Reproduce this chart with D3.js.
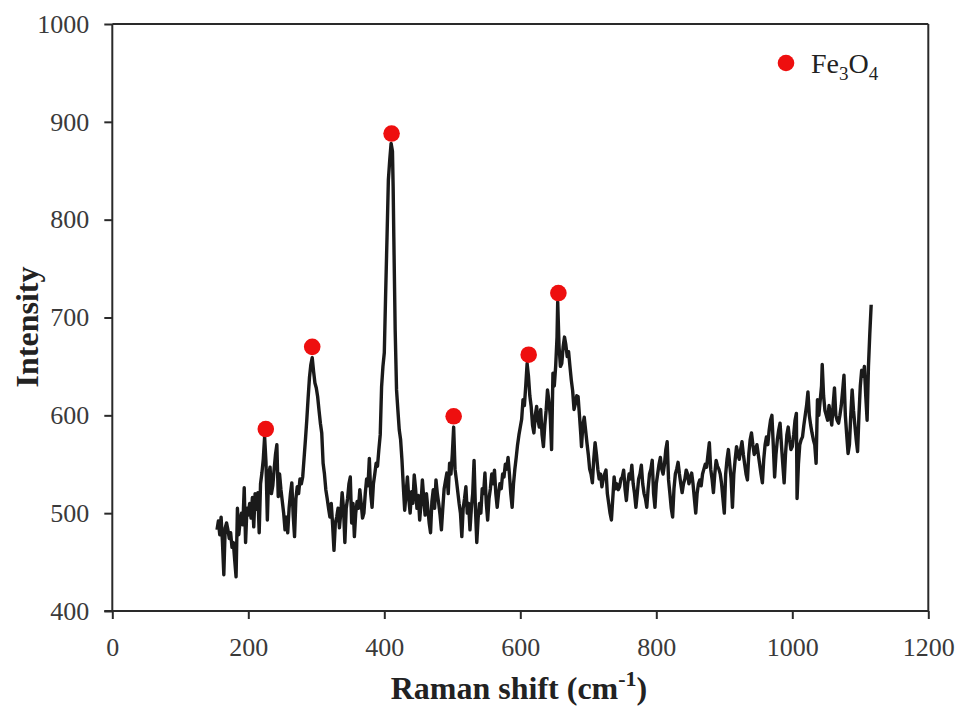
<!DOCTYPE html>
<html>
<head>
<meta charset="utf-8">
<script src="https://cdn.jsdelivr.net/npm/d3@7"></script>
<style>
  html, body { margin: 0; padding: 0; background: #fff; }
  svg { display: block; }
</style>
</head>
<body>
<svg id="chart" width="960" height="708"></svg>
<script>
// Raman spectrum (cm^-1) and intensity
const ramanShift = [
154,156,158,160,162,164,166,168,170,172,174,176,178,180,182,184,186,188,190,192,194,196,198,200,
202,204,206,208,210,212,214,216,218,220,222,224,226,228,230,232,234,236,238,240,242,244,246,248,
250,252,254,256,258,260,262,264,266,268,270,272,274,276,278,280,282,284,286,288,290,292,294,296,
298,300,302,304,306,308,310,312,314,316,318,320,322,324,326,328,330,332,334,336,338,340,342,344,
346,348,350,352,354,356,358,360,362,364,366,368,370,372,374,376,378,380,382,384,386,388,390,392,
394,396,398,400,402,404,406,408,410,412,413,414,416,418,420,422,424,426,428,430,432,434,436,438,
440,442,444,446,448,450,452,454,456,458,460,462,464,466,468,470,472,474,476,478,480,482,484,486,
488,490,492,494,496,498,500,502,504,506,508,510,512,514,516,518,520,522,524,526,528,530,532,534,
536,538,540,542,544,546,548,550,552,554,556,558,560,562,564,566,568,570,572,574,576,578,580,582,
584,586,588,590,592,594,596,598,600,602,604,606,608,610,612,614,616,618,620,622,624,626,628,630,
632,634,636,638,640,642,644,646,648,650,652,654,655,657,659,661,663,665,667,669,671,673,675,677,
679,681,683,685,687,689,690,692,694,696,698,700,702,704,706,708,710,712,714,716,718,720,722,724,
726,728,730,732,734,736,738,740,742,744,746,748,750,752,754,756,758,760,762,764,766,768,770,772,
774,776,778,780,782,784,786,788,790,792,794,796,798,800,802,804,806,808,810,812,814,816,818,820,
822,824,826,828,830,832,834,836,838,840,842,844,846,848,850,852,854,856,858,860,862,864,866,868,
870,872,874,876,878,880,882,884,886,888,890,892,894,896,898,900,902,904,906,908,910,912,914,916,
918,920,922,924,926,928,930,932,934,936,938,940,942,944,946,948,950,952,954,956,958,960,962,964,
966,968,970,972,974,976,978,980,982,984,986,988,990,992,994,996,998,1000,1002,1004,1006,1007,1009,1011,
1013,1015,1017,1019,1021,1023,1025,1027,1029,1031,1033,1035,1037,1039,1041,1043,1044,1046,1048,1050,1052,1054,
1056,1058,1060,1062,1064,1066,1068,1070,1072,1074,1076,1078,1080,1082,1084,1086,1088,1090,1092,1094,1096,1098,
1100,1102,1104,1106,1108,1110,1112,1114,1116
];
const intensity = [
483,492,478,496,470,437,485,490,483,474,480,465,470,452,435,505,478,492,500,488,526,470,505,498,
510,495,516,486,520,504,521,480,530,541,555,578,552,493,540,547,520,528,545,560,570,517,540,524,
512,500,483,496,480,505,520,531,498,476,515,527,520,535,530,537,556,575,595,618,639,652,659,645,
633,628,619,605,592,582,551,540,524,515,505,496,510,488,462,490,496,505,485,500,521,505,470,505,
515,530,537,490,510,476,500,512,505,524,510,495,500,520,535,528,556,520,506,530,540,551,548,565,
580,629,650,664,725,782,841,861,878,870,834,782,687,626,605,585,575,554,527,503,520,537,515,500,
522,510,539,525,505,518,493,510,534,515,498,520,505,490,480,512,524,505,534,520,510,498,483,505,
525,533,541,520,551,540,560,588,545,534,522,510,500,476,505,515,527,500,510,483,505,520,554,505,
470,495,510,500,525,520,541,510,493,515,525,540,530,544,520,506,520,530,525,540,537,550,545,557,
540,520,506,530,545,557,570,580,588,596,616,610,630,653,640,620,609,590,582,600,609,595,588,606,
580,568,590,605,626,615,600,565,643,630,650,680,716,670,650,653,670,680,672,660,665,650,636,625,
606,612,620,619,600,580,568,590,598,585,572,560,545,540,531,555,572,560,545,535,540,527,535,540,
544,520,510,500,493,515,537,525,530,524,527,535,537,544,525,513,530,540,535,549,530,520,506,520,
535,540,549,530,520,515,506,525,540,545,554,520,506,530,540,550,557,545,540,550,565,573,534,520,
505,496,525,540,545,552,540,530,521,530,535,544,540,530,535,541,530,515,500,520,530,534,528,540,
545,550,547,560,572,545,535,521,540,554,548,545,540,530,515,500,540,555,565,550,535,506,540,555,
568,560,555,565,573,560,550,540,534,560,575,582,570,560,565,570,560,550,540,531,555,570,578,570,
585,595,600,570,537,560,575,585,592,570,550,531,560,580,588,575,565,568,580,595,602,515,550,570,
575,578,590,600,610,624,600,590,582,575,570,551,616,600,615,630,652,620,605,600,595,610,
600,590,610,628,600,595,592,600,610,625,641,600,580,561,570,600,626,605,590,575,563,600,
630,646,640,650,620,595,650,684,713
];

// Fe3O4 peak markers
const peakShift = [225.7, 294, 410.7, 502, 612.3, 656];
const peakIntensity = [586, 670, 888, 599, 662, 725];

// Axis ticks and labels
const xTicks = [0, 200, 400, 600, 800, 1000, 1200];
const yTicks = [400, 500, 600, 700, 800, 900, 1000];
const xTitle = "Raman shift (cm";
const xTitleSup = "-1";
const yTitle = "Intensity";
const legendLabel = ["Fe", "3", "O", "4"];

const svg = d3.select("#chart");
const margin = { left: 112.3, right: 960 - 928.3, top: 24, bottom: 708 - 611 };
const W = 960, H = 708;

const x = d3.scaleLinear().domain([0, 1200]).range([margin.left, W - margin.right]);
const y = d3.scaleLinear().domain([400, 1000]).range([H - margin.bottom, margin.top]);

const axisColor = "#2a2a2a";
const textColor = "#3a3a3a";
const serif = "'Liberation Serif', 'Times New Roman', serif";

// Frame (top and right)
svg.append("line").attr("x1", x(0)).attr("x2", x(1200)).attr("y1", y(1000)).attr("y2", y(1000))
  .attr("stroke", axisColor).attr("stroke-width", 2);
svg.append("line").attr("x1", x(1200)).attr("x2", x(1200)).attr("y1", y(1000)).attr("y2", y(400))
  .attr("stroke", axisColor).attr("stroke-width", 2);

// Bottom axis
const xAxis = svg.append("g").attr("transform", `translate(0,${y(400)})`)
  .call(d3.axisBottom(x).tickValues(xTicks).tickSize(8).tickPadding(19).tickFormat(d3.format("d")));
// Left axis
const yAxis = svg.append("g").attr("transform", `translate(${x(0)},0)`)
  .call(d3.axisLeft(y).tickValues(yTicks).tickSize(8).tickPadding(15).tickFormat(d3.format("d")));

[xAxis, yAxis].forEach(g => {
  g.select(".domain").attr("stroke", axisColor).attr("stroke-width", 2);
  g.selectAll(".tick line").attr("stroke", axisColor).attr("stroke-width", 2);
  g.selectAll(".tick text").attr("fill", textColor).style("font-family", serif).style("font-size", "26px");
});
yAxis.select(".domain").attr("d", `M0,${y(1000)}V${y(400)}`);
xAxis.select(".domain").attr("d", `M${x(0) - 8},0H${x(1200)}`);

// Spectrum line
const pts = ramanShift.map((s, i) => [s, intensity[i]]);
svg.append("path")
  .datum(pts)
  .attr("fill", "none")
  .attr("stroke", "#1a1a1a")
  .attr("stroke-width", 3.4)
  .attr("stroke-linejoin", "round")
  .attr("d", d3.line().x(d => x(d[0])).y(d => y(d[1])));

// Peak markers
svg.append("g").selectAll("circle")
  .data(peakShift.map((s, i) => [s, peakIntensity[i]]))
  .join("circle")
  .attr("cx", d => x(d[0]))
  .attr("cy", d => y(d[1]))
  .attr("r", 8.3)
  .attr("fill", "#ee0f0f");

// Legend
svg.append("circle").attr("cx", 786).attr("cy", 63).attr("r", 8.3).attr("fill", "#ee0f0f");
const lt = svg.append("text").attr("x", 811).attr("y", 73)
  .attr("fill", "#222").style("font-family", serif).style("font-size", "28px");
lt.append("tspan").text(legendLabel[0]);
lt.append("tspan").attr("dy", 7).style("font-size", "19px").text(legendLabel[1]);
lt.append("tspan").attr("dy", -7).text(legendLabel[2]);
lt.append("tspan").attr("dy", 7).style("font-size", "19px").text(legendLabel[3]);

// Axis titles
const xt = svg.append("text").attr("x", 519).attr("y", 699).attr("text-anchor", "middle")
  .attr("fill", "#222").style("font-family", serif).style("font-size", "32px").style("font-weight", "bold");
xt.append("tspan").text(xTitle);
xt.append("tspan").attr("dy", -13).style("font-size", "22px").text(xTitleSup);
xt.append("tspan").attr("dy", 13).text(")");

svg.append("text").attr("transform", `translate(38,327) rotate(-90)`)
  .attr("text-anchor", "middle")
  .attr("fill", "#222").style("font-family", serif).style("font-size", "32px").style("font-weight", "bold")
  .text(yTitle);
</script>
</body>
</html>
